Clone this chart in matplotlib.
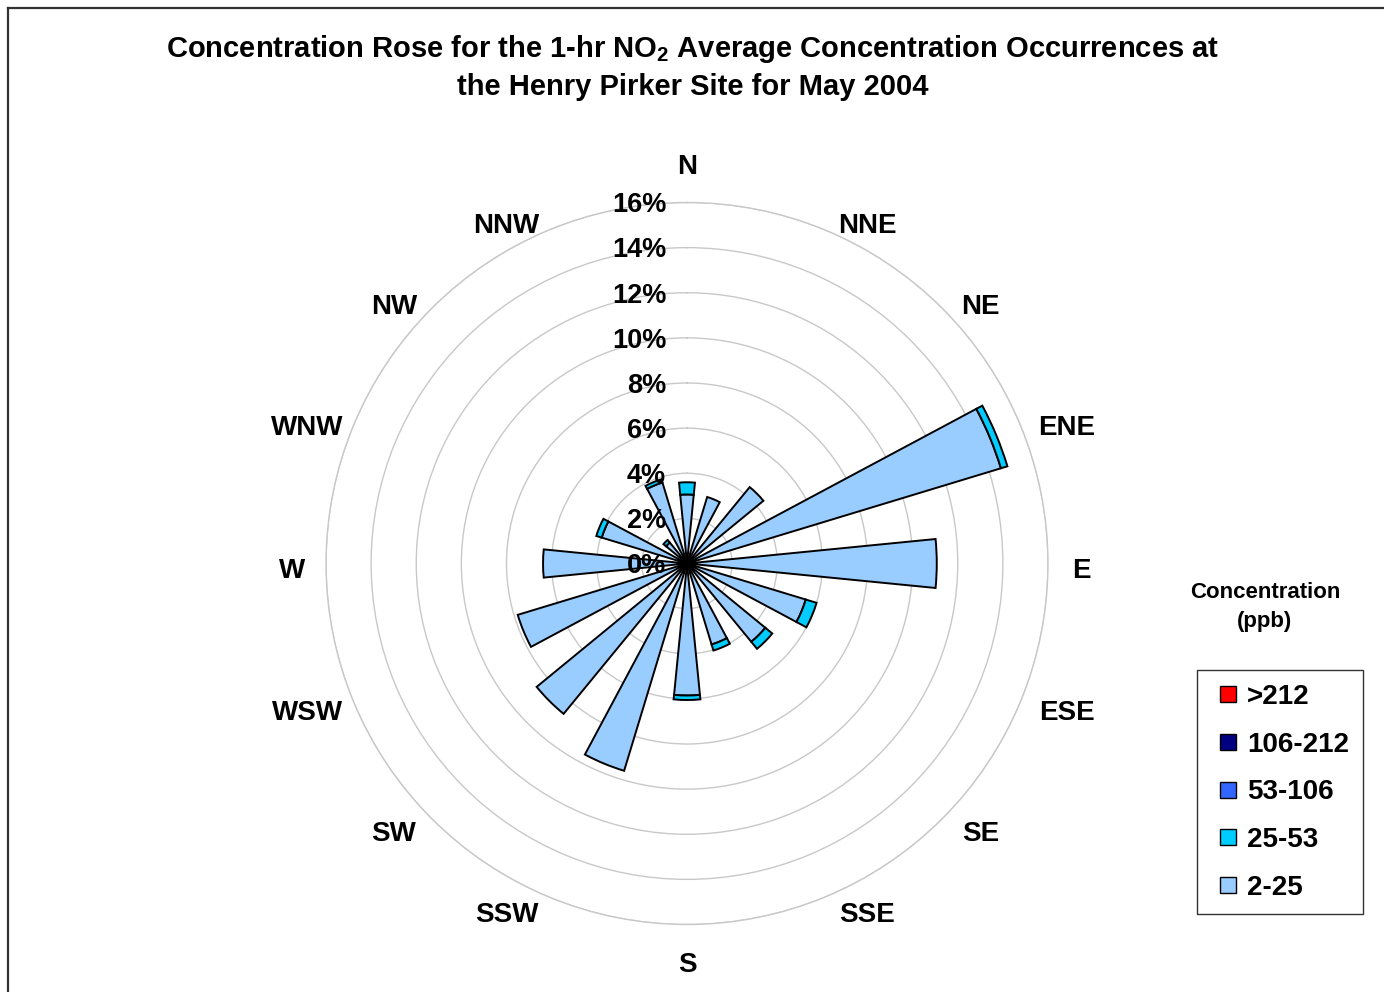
import numpy as np
import matplotlib
matplotlib.use("Agg")
import matplotlib.pyplot as plt
from matplotlib.lines import Line2D

plt.rcParams['font.family'] = ['Liberation Sans', 'DejaVu Sans']
plt.rcParams['font.weight'] = 'bold'
plt.rcParams['mathtext.default'] = 'regular'

# wind directions (clockwise from north)
directions = ['N', 'NNE', 'NE', 'ENE', 'E', 'ESE', 'SE', 'SSE',
              'S', 'SSW', 'SW', 'WSW', 'W', 'WNW', 'NW', 'NNW']

# percent of hours in each concentration class (ppb)
c_2_25 = [3.06, 3.08, 4.38, 14.54, 11.07, 5.50, 4.49, 3.75,
          5.85, 9.60, 8.62, 7.84, 6.38, 3.95, 1.20, 3.75]
c_25_53 = [0.54, 0.0, 0.0, 0.30, 0.0, 0.50, 0.40, 0.28,
           0.20, 0.0, 0.0, 0.0, 0.0, 0.25, 0.15, 0.15]
c_53_106 = [0.0] * 16
c_106_212 = [0.0] * 16
c_212 = [0.0] * 16

classes = ['2-25', '25-53', '53-106', '106-212', '>212']
colors = ['#99CCFF', '#00CCFF', '#3366FF', '#000080', '#FF0000']
rticks = [0, 2, 4, 6, 8, 10, 12, 14, 16]

W, H = 1384, 992
fig = plt.figure(figsize=(W / 100, H / 100), dpi=100)

cx, cy, R = 687, 563.5, 361
ax = fig.add_axes([(cx - R) / W, (H - cy - R) / H, 2 * R / W, 2 * R / H],
                  projection='polar')
ax.set_theta_zero_location('N')
ax.set_theta_direction(-1)
ax.set_ylim(0, 16)

theta = np.arange(16) * 2 * np.pi / 16
width = 2 * np.pi / 32

bottom = np.zeros(16)
for vals, col in zip([c_2_25, c_25_53, c_53_106, c_106_212, c_212], colors):
    vals = np.array(vals)
    m = vals > 0
    if m.any():
        ax.bar(theta[m], vals[m], width=width, bottom=bottom[m], color=col,
               edgecolor='black', linewidth=1.4, zorder=3)
    bottom += vals

# grid
ax.set_rgrids(rticks, labels=[''] * len(rticks))
ax.set_xticks(theta)
ax.set_xticklabels([''] * 16)
ax.xaxis.grid(False)
ax.yaxis.grid(True, color='#C8C8C8', linewidth=1)
ax.spines['polar'].set_color('#C8C8C8')
ax.spines['polar'].set_linewidth(1)
ax.tick_params(length=0)

# radial labels
for r in rticks:
    ax.annotate(f'{r}%', xy=(0, r), xytext=(-15, -2), textcoords='offset points',
                ha='right', va='center', fontsize=19.5, fontweight='bold', zorder=5,
                annotation_clip=False)

# direction labels, placed around the outer ring
for t, lab in zip(theta, directions):
    s, c = np.sin(t), np.cos(t)
    w = 19.5 * len(lab)
    if abs(s) < 0.01:
        ox, oy = 0.0, c * 373 + np.sign(c) * 26
    else:
        ox = s * 368 + np.sign(s) * (20 + w / 3)
        oy = c * 373 - 4
    oy -= 3
    ax.annotate(lab, xy=(0, 0), xytext=(ox * 0.72, oy * 0.72),
                textcoords='offset points', ha='center', va='center',
                fontsize=20, fontweight='bold', annotation_clip=False)

# title
fig.text(693 / W, 1 - 49 / H,
         'Concentration Rose for the 1-hr NO$_2$ Average Concentration Occurrences at',
         ha='center', va='center', fontsize=21, fontweight='bold')
fig.text(693 / W, 1 - 87 / H, 'the Henry Pirker Site for May 2004',
         ha='center', va='center', fontsize=21, fontweight='bold')

# legend
fig.text(1265 / W, 1 - 607 / H, 'Concentration\n(ppb)', ha='center', va='center',
         fontsize=16, fontweight='bold', linespacing=1.5)
handles = [Line2D([], [], linestyle='none', marker='s', markersize=11.5,
                  markerfacecolor=c, markeredgecolor='black', markeredgewidth=1)
           for c in colors[::-1]]
leg = fig.legend(handles, classes[::-1], loc='upper left',
                 bbox_to_anchor=(1197 / W, 1 - 670 / H), frameon=True, fancybox=False,
                 prop={'size': 20, 'weight': 'bold'}, handlelength=1.25,
                 handletextpad=0.05, labelspacing=0.78,
                 borderpad=0.5, borderaxespad=0)
leg.get_frame().set_edgecolor('black')
leg.get_frame().set_linewidth(1)

# outer frame
fig.add_artist(Line2D([8 / W, 8 / W], [0, 1 - 8 / H], color='#333333', linewidth=1.6))
fig.add_artist(Line2D([8 / W, 1], [1 - 8 / H, 1 - 8 / H], color='#333333', linewidth=1.6))

fig.savefig('out.png', dpi=100)
